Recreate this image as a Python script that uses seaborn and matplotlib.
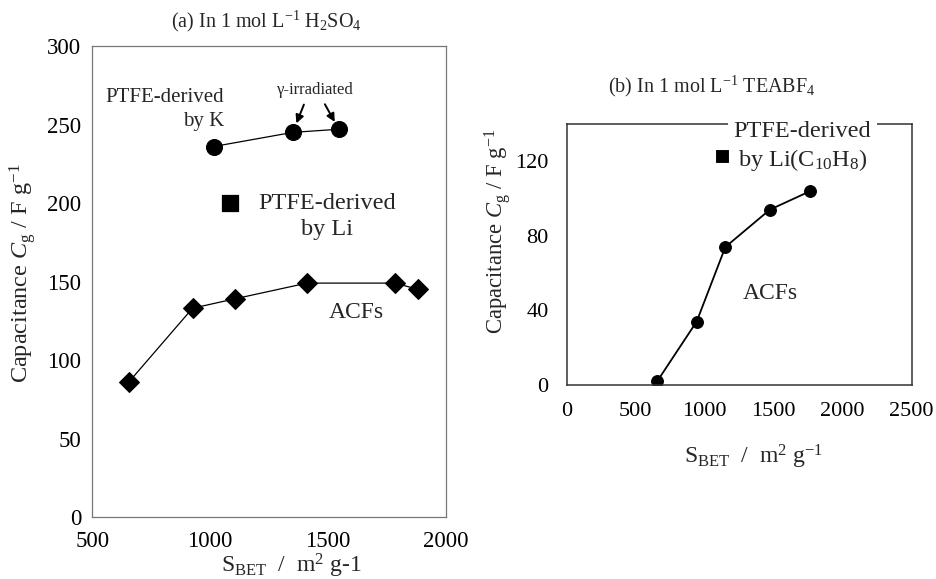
import matplotlib
matplotlib.use('Agg')
import matplotlib.pyplot as plt
import seaborn as sns
from matplotlib.ticker import MultipleLocator

# ---- Panel (a): in 1 mol/L H2SO4 ----
acf_a_x = [655, 925, 1105, 1410, 1785, 1880]
acf_a_y = [86, 133, 139, 149, 149, 145]
k_x = [1015, 1350, 1545]
k_y = [236, 245, 247]
li_a_x = [1085]
li_a_y = [200]

# ---- Panel (b): in 1 mol/L TEABF4 ----
acf_b_x = [656, 942, 1150, 1472, 1766]
acf_b_y = [2, 34, 74, 94, 104]
li_b_x = [1128]
li_b_y = [123]

sns.set_style("white")
plt.rcParams['font.family'] = ['Liberation Serif', 'DejaVu Serif']
plt.rcParams['mathtext.fontset'] = 'custom'
plt.rcParams['mathtext.rm'] = 'Liberation Serif'
plt.rcParams['mathtext.it'] = 'Liberation Serif:italic'
plt.rcParams['mathtext.bf'] = 'Liberation Serif:bold'

fig = plt.figure(figsize=(9.36, 5.79), dpi=100)
axa = fig.add_axes([0.0986, 0.107, 0.3780, 0.8135])
axb = fig.add_axes([0.6054, 0.335, 0.3686, 0.451])

# ---------- panel (a) ----------
sns.lineplot(x=acf_a_x, y=acf_a_y, ax=axa, color='black', lw=0.9,
             marker='D', markersize=10, markeredgecolor='black', sort=False)
sns.lineplot(x=k_x, y=k_y, ax=axa, color='black', lw=0.9,
             marker='o', markersize=11.5, markeredgecolor='black', sort=False)
sns.scatterplot(x=li_a_x, y=li_a_y, ax=axa, color='black', marker='s',
                s=130, edgecolor='black')

axa.set_xlim(500, 2000)
axa.set_ylim(0, 300)
axa.xaxis.set_major_locator(MultipleLocator(500))
axa.xaxis.set_minor_locator(MultipleLocator(100))
axa.yaxis.set_major_locator(MultipleLocator(50))
axa.yaxis.set_minor_locator(MultipleLocator(10))
axa.tick_params(which='both', direction='in', top=False, right=False,
                colors='#444444', labelcolor='black', labelsize=16.5)
axa.tick_params(which='major', length=5, width=0.8, pad=8)
axa.tick_params(axis='x', which='major', pad=10)
axa.tick_params(which='minor', length=3, width=0.8)
for sp in axa.spines.values():
    sp.set_color('#777777')
    sp.set_linewidth(0.9)

axa.set_ylabel(r'Capacitance $C_{\mathrm{g}}$ / F g$^{\mathrm{-1}}$', fontsize=17.5)
axa.yaxis.label.set_va('center')
axa.yaxis.set_label_coords(-0.198, 0.518)
axa.set_xlabel(r'S$_{\mathrm{BET}}$  /  m$^{\mathrm{2}}$ g-1', fontsize=17)
axa.xaxis.label.set_va('center')
axa.xaxis.set_label_coords(0.564, -0.104)

fig.text(0.285, 0.963, r'(a) In 1 mol L$^{\mathrm{-1}}$ H$_{\mathrm{2}}$SO$_{\mathrm{4}}$',
         ha='center', va='center', fontsize=14.5)

axa.text(1059, 259.5, 'PTFE-derived\nby K', ha='right', va='center',
         multialignment='right', fontsize=15, linespacing=1.35)
axa.text(1445, 272, 'γ-irradiated', ha='center', va='center', fontsize=12)
for (px, py), (dx, dy), shr in zip([(k_x[1], k_y[1]), (k_x[2], k_y[2])],
                                    [(8, 20), (-10, 18)], [7, 6]):
    axa.annotate('', xy=(px, py), xytext=(dx, dy), textcoords='offset points',
                 arrowprops=dict(arrowstyle='-|>', color='black', lw=1.4,
                                 mutation_scale=12, shrinkA=0, shrinkB=shr))
axa.text(1496, 191.5, 'PTFE-derived\nby Li', ha='center', va='center',
         multialignment='center', fontsize=17.5, linespacing=1.35)
axa.text(1618, 130, 'ACFs', ha='center', va='center', fontsize=17)

# ---------- panel (b) ----------
sns.lineplot(x=acf_b_x, y=acf_b_y, ax=axb, color='black', lw=1.3,
             marker='o', markersize=8.5, markeredgecolor='black', sort=False)
sns.scatterplot(x=li_b_x, y=li_b_y, ax=axb, color='black', marker='s',
                s=65, edgecolor='black')

axb.set_xlim(0, 2500)
axb.set_ylim(0, 140)
axb.xaxis.set_major_locator(MultipleLocator(500))
axb.yaxis.set_major_locator(MultipleLocator(40))
axb.yaxis.set_minor_locator(MultipleLocator(20))
axb.tick_params(which='both', direction='in', top=False, right=False,
                colors='#333333', labelcolor='black', labelsize=16)
axb.tick_params(which='major', length=5, width=0.9)
axb.tick_params(axis='x', which='major', pad=12)
axb.tick_params(axis='y', which='major', pad=13)
axb.tick_params(which='minor', length=5, width=0.9)
for sp in axb.spines.values():
    sp.set_color('#333333')
    sp.set_linewidth(1.1)

axb.set_ylabel(r'Capacitance $C_{\mathrm{g}}$ / F g$^{\mathrm{-1}}$', fontsize=16.3)
axb.yaxis.label.set_va('center')
axb.yaxis.set_label_coords(-0.199, 0.588)
axb.set_xlabel(r'S$_{\mathrm{BET}}$  /  m$^{\mathrm{2}}$ g$^{\mathrm{-1}}$', fontsize=17)
axb.xaxis.label.set_va('center')
axb.xaxis.set_label_coords(0.543, -0.276)

fig.text(0.760, 0.850, r'(b) In 1 mol L$^{\mathrm{-1}}$ TEABF$_{\mathrm{4}}$',
         ha='center', va='center', fontsize=14.5)

axb.text(1709, 136, 'PTFE-derived', ha='center', va='center', fontsize=17.5,
         bbox=dict(facecolor='white', edgecolor='none', pad=4), zorder=5,
         clip_on=False)
axb.text(1712, 120.5, r'by Li(C$_{\mathrm{10}}$H$_{\mathrm{8}}$)', ha='center',
         va='center', fontsize=17.5)
axb.text(1476, 49, 'ACFs', ha='center', va='center', fontsize=17)

fig.savefig('out.png', dpi=100, facecolor='white')
